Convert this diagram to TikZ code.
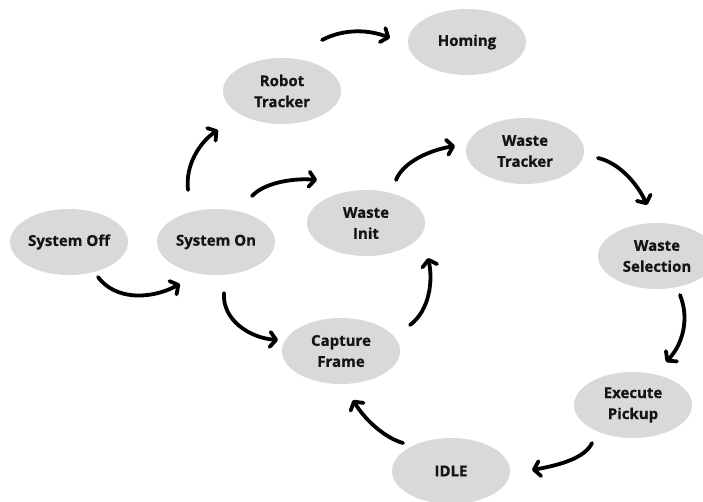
\documentclass[tikz,border=0pt]{standalone}
\usepackage{fontspec}
\setmainfont{Open Sans}[BoldFeatures={FakeBold=0.6}]
\usetikzlibrary{arrows.meta,shapes.geometric}
\definecolor{bubble}{HTML}{D9D9D9}
\definecolor{ink}{HTML}{141414}
\tikzset{
  state/.style={ellipse, fill=bubble, minimum width=118pt, minimum height=66pt,
    inner sep=0pt, align=center, text=ink,
    font=\fontsize{15}{21}\selectfont\bfseries},
  flow/.style={line width=3.8pt, line cap=round, draw=black,
    -{Straight Barb[length=6pt,width=15pt,line cap=round,line join=round]}}
}
\begin{document}
\begin{tikzpicture}[x=1pt,y=-1pt]
  \useasboundingbox (0,0) rectangle (703,501);
  % states
  \node[state] (off)  at (69,242)  {System Off};
  \node[state] (on)   at (216,242) {System On};
  \node[state] (rob)  at (282,91)  {Robot\\Tracker};
  \node[state] (home) at (467,42)  {Homing};
  \node[state] (init) at (366,223) {Waste\\Init};
  \node[state] (wtr)  at (525,151) {Waste\\Tracker};
  \node[state] (wsel) at (657,256) {Waste\\Selection};
  \node[state] (exe)  at (633,405) {Execute\\Pickup};
  \node[state] (idle) at (451,471) {IDLE};
  \node[state] (cap)  at (341,351) {Capture\\Frame};
  % connector end points
  \coordinate (offS)  at (98,277);  \coordinate (onA)   at (180,284);
  \coordinate (onU)   at (188,190); \coordinate (robA)  at (218,130);
  \coordinate (robR)  at (322,40);  \coordinate (homeA) at (390,38);
  \coordinate (onR)   at (252,196); \coordinate (initA) at (317,180);
  \coordinate (initU) at (396,180); \coordinate (wtrA)  at (455,146);
  \coordinate (wtrR)  at (598,158); \coordinate (wselA) at (647,205);
  \coordinate (wselD) at (680,295); \coordinate (exeA)  at (666,362);
  \coordinate (exeD)  at (592,443); \coordinate (idleA) at (532,470);
  \coordinate (idleL) at (403,443); \coordinate (capA)  at (353,400);
  \coordinate (capR)  at (410,325); \coordinate (initB) at (428,258);
  \coordinate (onD)   at (224,293); \coordinate (capL)  at (278,340);
  % transitions
  \draw[flow] (offS)  .. controls (115,300) and (150,300) .. (onA);
  \draw[flow] (onU)   .. controls (185,165) and (200,142) .. (robA);
  \draw[flow] (robR)  .. controls (345,28)  and (370,30)  .. (homeA);
  \draw[flow] (onR)   .. controls (265,182) and (295,178) .. (initA);
  \draw[flow] (initU) .. controls (403,162) and (430,150) .. (wtrA);
  \draw[flow] (wtrR)  .. controls (620,163) and (638,185) .. (wselA);
  \draw[flow] (wselD) .. controls (690,320) and (682,345) .. (exeA);
  \draw[flow] (exeD)  .. controls (585,458) and (560,465) .. (idleA);
  \draw[flow] (idleL) .. controls (385,438) and (365,420) .. (capA);
  \draw[flow] (capR)  .. controls (430,310) and (433,280) .. (initB);
  \draw[flow] (onD)   .. controls (222,320) and (250,338) .. (capL);
\end{tikzpicture}
\end{document}
